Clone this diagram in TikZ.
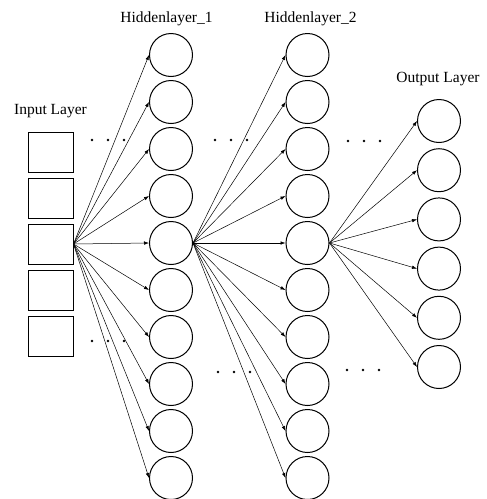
\documentclass[tikz,border=0pt]{standalone}
\usepackage{fontspec}
\setmainfont{Liberation Serif}
\usetikzlibrary{arrows.meta}
\begin{document}
\begin{tikzpicture}
[x=1pt,y=-1pt,
  neurondecorate/.style={shape=circle,minimum size=43pt,inner sep=0pt,draw,line width=1pt},%
  boxdecorate/.style={shape=rectangle,minimum width=45pt,minimum height=40pt,inner sep=0pt,draw,line width=1pt},%
  linedecorate/.style={-{Latex[length=5pt,width=3.5pt]},line width=0.5pt},%
  labeldecorate/.style={font=\fontsize{15.5}{18}\selectfont,inner sep=0pt,anchor=base}]
\useasboundingbox (0,0) rectangle (487,499);
%% layer names
\node (inlabel) at (50.5,114) [labeldecorate] {Input Layer};
\node (hilabel) at (166.5,22.5) [labeldecorate] {Hiddenlayer\_1};
\node (hiilabel) at (310.5,22.5) [labeldecorate] {Hiddenlayer\_2};
\node (outlabel) at (438,82.5) [labeldecorate] {Output Layer};
%% input boxes
\foreach \i in {1,...,5}
{
  \node (in\i) at (50.5,{152+46*(\i-1)}) [boxdecorate] {};
}
%% hidden neurons
\foreach \i in {1,...,10}
{
  \node (hi\i) at (171,{55+47*(\i-1)}) [neurondecorate] {};
  \node (hii\i) at (307.5,{55+47*(\i-1)}) [neurondecorate] {};
}
%% output neurons
\foreach \i in {1,...,6}
{
  \node (out\i) at (439,{121+49.2*(\i-1)}) [neurondecorate] {};
}
%% dots
\foreach \x/\y in {92/140, 108/140, 124/140, 92/341, 108/341, 124/341,
  215/140, 231/140, 247/140, 218/372, 234/372, 250/372,
  348/141, 364/141, 380/141, 347/370, 363/370, 379/370}
{
  \fill (\x,\y) circle (1.3pt);
}
%% edges
\path
\foreach \endnode in {1,...,10}
{
  (in3.east) edge[linedecorate] (hi\endnode.west)
  (hi5.east) edge[linedecorate] (hii\endnode.west)
};
\path
\foreach \endnode in {1,...,6}
{
  (hii5.east) edge[linedecorate] (out\endnode.west)
};
\end{tikzpicture}
\end{document}
